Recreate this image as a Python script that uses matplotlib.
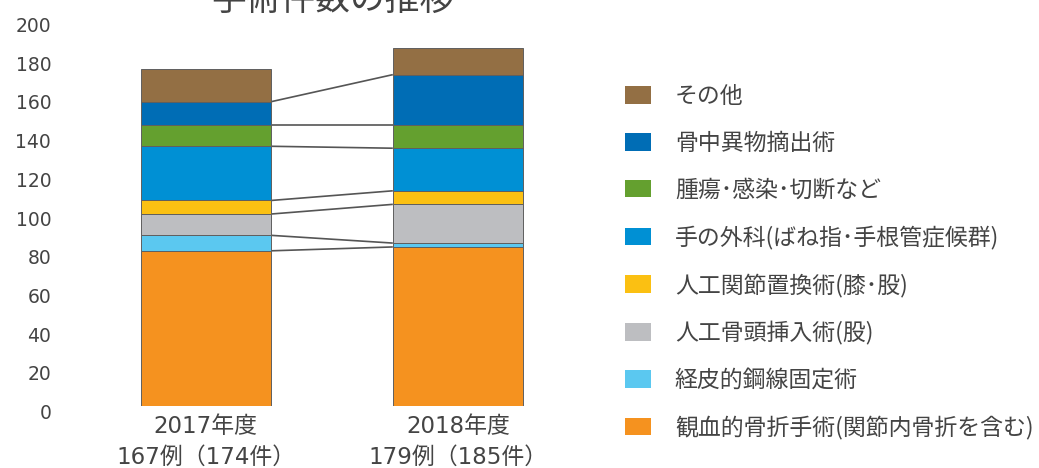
import matplotlib
matplotlib.use("Agg")
import matplotlib.pyplot as plt
from matplotlib.transforms import ScaledTranslation
import numpy as np

plt.rcParams['font.family'] = ['DejaVu Sans', 'Noto Sans CJK JP']

# ---- data ----
years = ["2017年度\n167例（174件）", "2018年度\n179例（185件）"]
categories = [
    "観血的骨折手術(関節内骨折を含む)",
    "経皮的鋼線固定術",
    "人工骨頭挿入術(股)",
    "人工関節置換術(膝･股)",
    "手の外科(ばね指･手根管症候群)",
    "腫瘍･感染･切断など",
    "骨中異物摘出術",
    "その他",
]
values_2017 = [80, 8, 11, 7, 28, 11, 12, 17]
values_2018 = [82, 2, 20, 7, 22, 12, 26, 14]
colors = ["#F5921F", "#5BC8F0", "#BDBEC1", "#FBC012", "#0090D4",
          "#64A02F", "#006DB5", "#936F44"]
yticks = list(range(0, 201, 20))
title = "手術件数の推移"

W, H = 1039, 468
fig = plt.figure(figsize=(W / 100, H / 100), dpi=100)
ax_left, ax_right = 54.7, 609.0
ax_bottom, ax_top = 405.7, 18.5
ax = fig.add_axes([ax_left / W, 1 - ax_bottom / H,
                   (ax_right - ax_left) / W, (ax_bottom - ax_top) / H])

x = np.arange(len(years))
width = 0.516
data = np.array([values_2017, values_2018])  # shape (2, ncat)
bottoms = np.zeros(len(years))
handles = []
for i, cat in enumerate(categories):
    b = ax.bar(x, data[:, i], width, bottom=bottoms, color=colors[i],
               edgecolor="#5f5f5f", linewidth=0.7, label=cat, zorder=2)
    handles.append(b)
    bottoms = bottoms + data[:, i]

# connector lines between segment tops (except total)
cum = np.cumsum(data, axis=1)
for i in range(len(categories) - 1):
    ax.plot([x[0] + width / 2, x[1] - width / 2], [cum[0, i], cum[1, i]],
            color="#555555", linewidth=1.2, zorder=1, solid_capstyle="butt")

ax.set_xlim(-0.6, 1.6)
ax.set_ylim(0, 200)
for s in ax.spines.values():
    s.set_visible(False)
ax.set_yticks([])
ax.set_xticks(x)
ax.set_xticklabels(years, fontsize=16.5, color="#444444", linespacing=1.4)
ax.tick_params(axis="x", length=0, pad=7)

# y tick labels
off = ScaledTranslation(-3.5 / 100, -8.0 / 100, fig.dpi_scale_trans)
for v in yticks:
    ax.text(0, v, str(v), transform=ax.get_yaxis_transform() + off,
            ha="right", va="center", fontsize=13.5, color="#444444")

# title (partially cut at top, as in the reference)
fig.text(333 / W, 1 - 10 / H, title, ha="center", va="baseline",
         fontsize=25, color="#444444", family=["Noto Sans CJK JP"])

# legend
leg = fig.legend(handles[::-1], categories[::-1], loc="upper left",
                 bbox_to_anchor=(625 / W, 1 - 85 / H), frameon=False,
                 handlelength=1.13, handleheight=0.8,
                 handletextpad=1.05, labelspacing=1.04, borderpad=0,
                 borderaxespad=0, prop={"family": ["Noto Sans CJK JP"], "size": 16.5})
for t in leg.get_texts():
    t.set_color("#444444")
for p in leg.get_patches():
    p.set_edgecolor("none")

fig.savefig("out.png", dpi=100)
